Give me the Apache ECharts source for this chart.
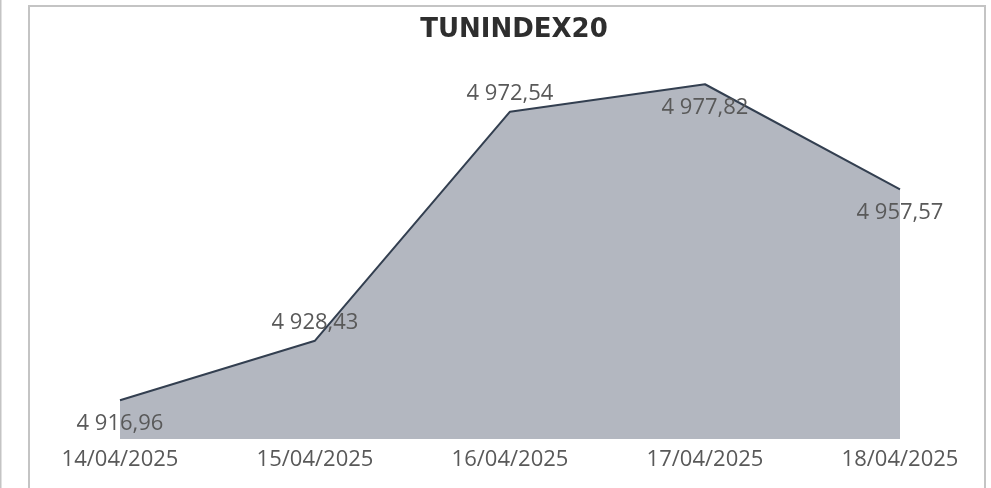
<!DOCTYPE html>
<html>
<head>
<meta charset="utf-8">
<script src="https://cdn.jsdelivr.net/npm/echarts@6/dist/echarts.min.js"></script>
<style>
html,body{margin:0;padding:0;background:#fff;}
#chart{width:991px;height:488px;}
</style>
</head>
<body>
<div id="chart"></div>
<script>
const title = 'TUNINDEX20';
const categories = ['14/04/2025', '15/04/2025', '16/04/2025', '17/04/2025', '18/04/2025'];
const values = [4916.96, 4928.43, 4972.54, 4977.82, 4957.57];
const labelSides = ['bottom', 'top', 'top', 'bottom', 'bottom'];

function fmt(v) {
  const parts = v.toFixed(2).split('.');
  const intPart = parts[0].replace(/\B(?=(\d{3})+(?!\d))/g, ' ');
  return intPart + ',' + parts[1];
}

const chart = echarts.init(document.getElementById('chart'));
chart.setOption({
  animation: false,
  backgroundColor: '#ffffff',
  title: {
    text: title,
    left: 509,
    textAlign: 'center',
    top: 12,
    textStyle: { fontFamily: 'DejaVu Sans', fontSize: 26, fontWeight: 'bold', color: '#2e2e2e' }
  },
  grid: { left: 120, right: 91, top: 21, bottom: 49 },
  xAxis: {
    type: 'category',
    data: categories,
    boundaryGap: false,
    axisLine: { show: false },
    axisTick: { show: false },
    axisLabel: { fontFamily: 'Open Sans', fontSize: 22, color: '#595959', margin: 10 },
    splitLine: { show: false }
  },
  yAxis: {
    type: 'value',
    min: 4909.5,
    max: 4990,
    show: false,
    splitLine: { show: false }
  },
  series: [{
    type: 'line',
    data: values.map((v, i) => ({
      value: v,
      label: { position: labelSides[i], distance: labelSides[i] === 'top' ? 7 : 12 }
    })),
    symbol: 'circle',
    symbolSize: 0.1,
    showSymbol: true,
    itemStyle: { color: '#333f50', opacity: 0 },
    lineStyle: { color: '#333f50', width: 2 },
    areaStyle: { color: '#b3b7c0', opacity: 1, origin: 'start' },
    label: {
      show: true,
      fontFamily: 'Open Sans',
      fontSize: 22,
      color: '#595959',
      opacity: 1,
      formatter: p => fmt(p.value)
    }
  }],
  graphic: [
    { type: 'rect', shape: { x: 29, y: 6, width: 956, height: 500 }, style: { fill: 'none', stroke: '#c4c4c4', lineWidth: 2 }, silent: true },
    { type: 'line', shape: { x1: 0.5, y1: 0, x2: 0.5, y2: 488 }, style: { stroke: '#c4c4c4', lineWidth: 2 }, silent: true }
  ]
});
</script>
</body>
</html>
